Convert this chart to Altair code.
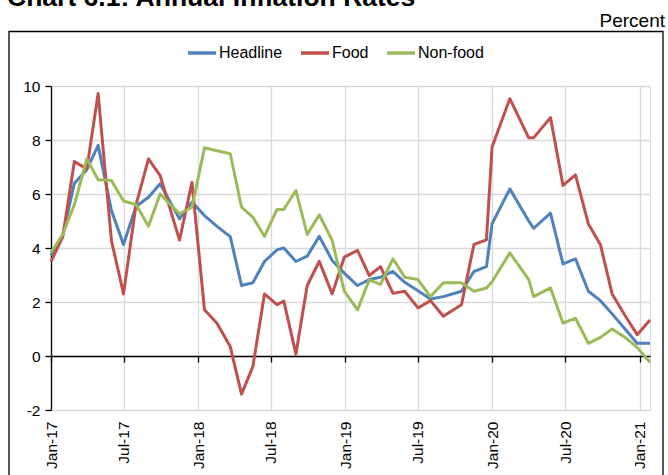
import altair as alt
import pandas as pd

dates = ["2017-01-01","2017-01-30","2017-02-28","2017-03-31","2017-04-28","2017-05-31","2017-06-30",
         "2017-07-31","2017-08-31","2017-09-29","2017-11-16","2017-12-17",
         "2018-01-17","2018-02-17","2018-03-22","2018-04-19","2018-05-17","2018-06-15","2018-07-16",
         "2018-08-02","2018-09-01","2018-09-29","2018-10-29","2018-11-30","2018-12-30",
         "2019-02-01","2019-03-02","2019-03-30","2019-04-30","2019-05-29","2019-07-01","2019-08-01",
         "2019-09-02","2019-10-17","2019-11-17","2019-12-18",
         "2020-01-01","2020-02-14","2020-04-01","2020-04-13","2020-05-25","2020-06-25","2020-07-26",
         "2020-08-27","2020-09-26","2020-10-25","2020-11-26","2020-12-26","2021-01-27"]

headline = [3.72,4.46,6.4,6.9,7.8,5.39,4.13,5.54,5.88,6.38,
            5.08,5.7,5.2,4.8,4.42,2.61,2.71,3.5,3.93,4.0,
            3.5,3.7,4.43,3.54,3.07,2.61,2.83,2.92,3.13,2.73,
            2.42,2.11,2.2,2.4,3.13,3.31,4.9,6.19,5.0,4.73,
            5.29,3.41,3.6,2.4,2.05,1.56,1.0,0.47,0.47]

food = [3.5,4.4,7.2,6.93,9.72,4.28,2.3,5.6,7.3,6.68,
        4.29,6.43,1.71,1.21,0.35,-1.41,-0.4,2.3,1.9,2.03,
        0.07,2.61,3.51,2.3,3.66,3.91,2.98,3.31,2.32,2.4,
        1.78,2.05,1.47,1.9,4.13,4.3,7.74,9.53,8.08,8.08,
        8.83,6.32,6.71,4.89,4.12,2.3,1.5,0.79,1.33]

nonfood = [3.84,4.5,5.6,7.3,6.53,6.5,5.74,5.61,4.81,6.0,
           5.27,5.51,7.71,7.6,7.49,5.51,5.14,4.43,5.43,5.43,
           6.13,4.5,5.23,4.28,2.4,1.71,2.82,2.65,3.6,2.92,
           2.83,2.2,2.71,2.71,2.4,2.52,2.75,3.82,2.83,2.2,
           2.52,1.22,1.4,0.47,0.69,1.0,0.69,0.32,-0.23]

series_names = ["Headline", "Food", "Non-food"]
series_colors = ["#4F81BD", "#C0504D", "#9BBB59"]
y_ticks = [-2, 0, 2, 4, 6, 8, 10]
title_text = "Chart 6.1: Annual Inflation Rates"
unit_text = "Percent"

rows = []
for name, vals in zip(series_names, [headline, food, nonfood]):
    for d, v in zip(dates, vals):
        rows.append({"date": d, "value": v, "series": name})
df = pd.DataFrame(rows)

FONT = "Liberation Sans"

lines = alt.Chart(df).mark_line(strokeWidth=3, strokeJoin="round").encode(
    x=alt.X("date:T",
            scale=alt.Scale(type="utc",
                            domain=[alt.DateTime(year=2017, month=1, date=1, utc=True),
                                    alt.DateTime(year=2021, month=1, date=27, utc=True)]),
            axis=alt.Axis(title=None, format="%b-%y", tickCount={"interval": "month", "step": 6},
                          labelAngle=-90, labelFontSize=15.5, labelFont=FONT, labelColor="black",
                          offset=-54, tickSize=6, tickColor="black", tickWidth=1.3,
                          domainColor="black", domainWidth=1.5, labelPadding=59,
                          grid=True, gridColor="#d9d9d9", gridWidth=1.3)),
    y=alt.Y("value:Q",
            scale=alt.Scale(domain=[-2, 10], nice=False, zero=False),
            axis=alt.Axis(title=None, values=y_ticks, labelFontSize=15.5, labelFont=FONT,
                          labelColor="black", tickSize=6, tickColor="black", tickWidth=1.3,
                          domainColor="black", domainWidth=1.3, labelPadding=5,
                          labelExpr="datum.value < 0 ? '-' + abs(datum.value) : datum.label",
                          grid=True, gridColor="#d9d9d9", gridWidth=1.3)),
    color=alt.Color("series:N",
                    scale=alt.Scale(domain=series_names, range=series_colors),
                    legend=alt.Legend(title=None, orient="none", direction="horizontal",
                                      legendX=135, legendY=-49,
                                      symbolType="stroke", symbolSize=784, symbolStrokeWidth=3.5,
                                      labelFontSize=16, labelFont=FONT, labelColor="black",
                                      labelOffset=1, columnPadding=11)),
    order=alt.Order("date:T"),
)

frame = alt.Chart(pd.DataFrame({"k": [0]})).mark_rect(filled=False, stroke="black", strokeWidth=1.3).encode(
    x=alt.value(-42), x2=alt.value(612), y=alt.value(-54.5), y2=alt.value(500)
)

title = alt.Chart(pd.DataFrame({"t": [title_text]})).mark_text(
    align="left", baseline="alphabetic", fontSize=26.5, fontWeight="bold", font=FONT, color="black"
).encode(text="t:N", x=alt.value(-44), y=alt.value(-80))

unit = alt.Chart(pd.DataFrame({"t": [unit_text]})).mark_text(
    align="right", baseline="alphabetic", fontSize=19, font=FONT, color="black"
).encode(text="t:N", x=alt.value(614), y=alt.value(-59))

chart = alt.layer(frame, lines, title, unit).properties(
    width=599, height=324,
    autosize=alt.AutoSizeParams(type="none"),
    padding={"left": 51, "top": 86, "right": 18, "bottom": 65},
).configure_view(stroke="#d9d9d9", strokeWidth=1.3).configure(background="white")

chart.save("out.html", embed_options={"renderer": "svg", "actions": False})
